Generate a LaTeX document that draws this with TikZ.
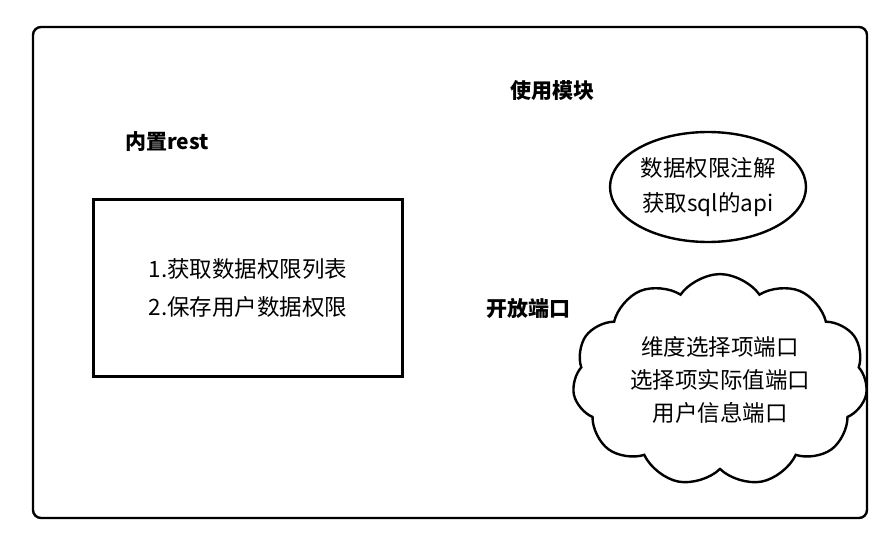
\documentclass[tikz,border=0pt]{standalone}
\usepackage{fontspec}
\setmainfont{Noto Sans CJK SC}
\usetikzlibrary{shapes.symbols,shapes.geometric}
\begin{document}
\begin{tikzpicture}[x=1pt,y=-1pt,
  lbl/.style={font=\fontsize{21}{24}\selectfont\bfseries},
  txt/.style={font=\fontsize{22.5}{35}\selectfont,align=center},
  ln/.style={line width=2.4pt}]
\useasboundingbox (0,0) rectangle (886,540);
\draw[ln,rounded corners=8] (33,27) rectangle (867,518);
\node[lbl] (t1) at (552,91) {使用模块};
\node[lbl] (t2) at (167,142) {内置rest};
\node[lbl] (t3) at (528,309) {开放端口};
\node[ln,draw,minimum width=309,minimum height=177,txt,font=\fontsize{22.5}{38}\selectfont] (box) at (248,288) {1.获取数据权限列表\\2.保存用户数据权限};
\node[ln,draw,ellipse,minimum width=196,minimum height=110,txt,inner sep=0] (ell) at (708,187) {数据权限注解\\获取sql的api};
\node[ln,draw,cloud,cloud puffs=11,cloud puff arc=110,aspect=1.4,minimum width=295,minimum height=200,txt,font=\fontsize{22.5}{33}\selectfont,inner sep=0] (cl) at (720,380) {维度选择项端口\\选择项实际值端口\\用户信息端口};
\end{tikzpicture}
\end{document}
